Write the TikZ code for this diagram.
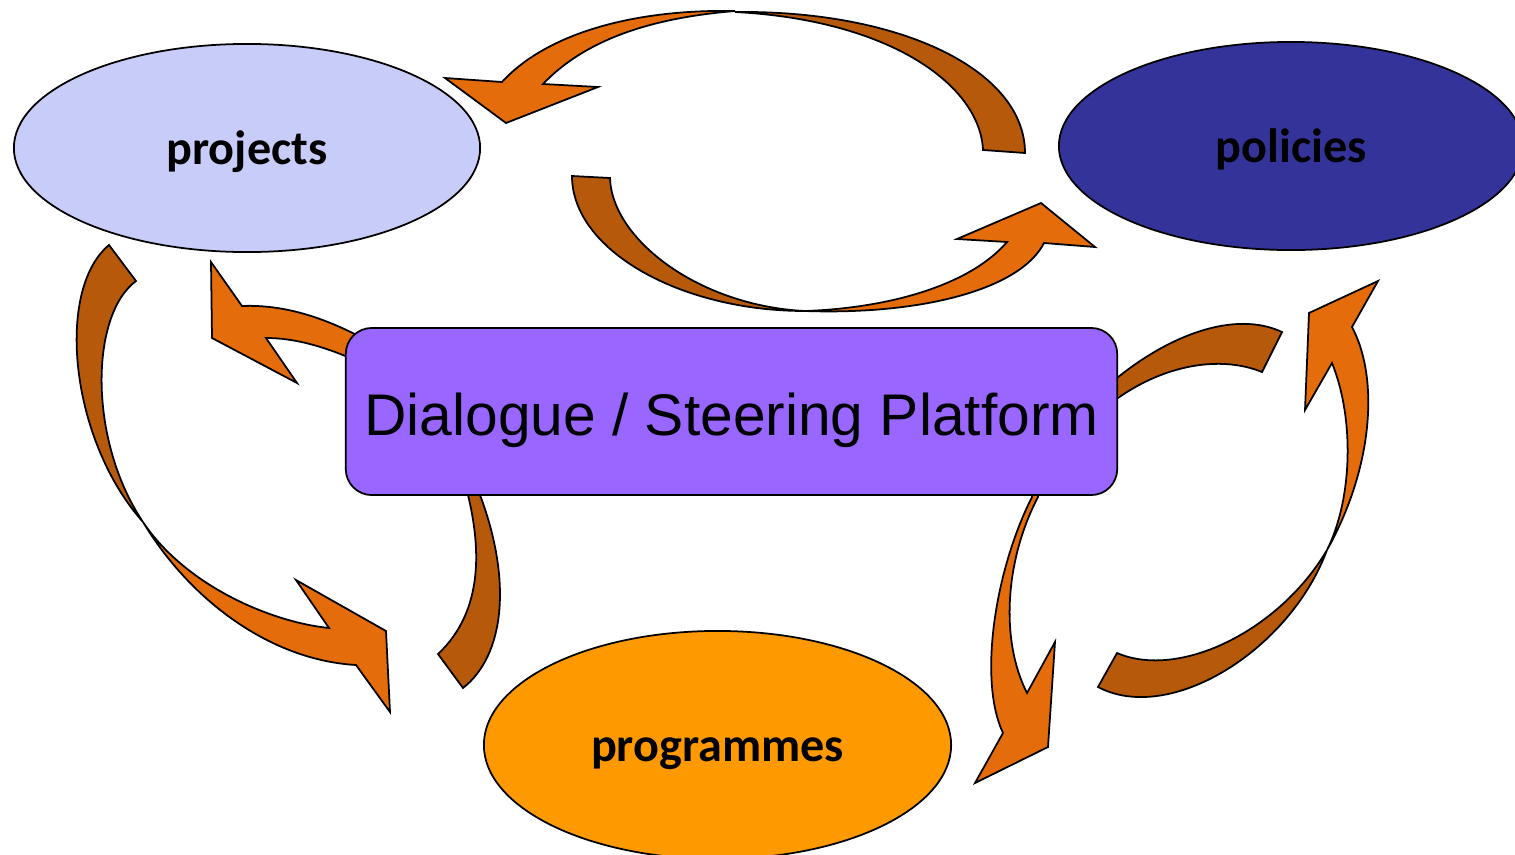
\documentclass[tikz,border=0pt]{standalone}
\usepackage{fontspec}
\setmainfont{Carlito}
\newfontfamily\arialfont{Liberation Sans}
\usetikzlibrary{shapes.geometric}
\definecolor{lightorange}{RGB}{228,108,10}
\definecolor{darkorange}{RGB}{183,89,10}
\definecolor{projfill}{RGB}{200,204,248}
\definecolor{polfill}{RGB}{51,51,153}
\definecolor{progfill}{RGB}{255,153,0}
\definecolor{boxfill}{RGB}{153,102,255}
\tikzset{
  lightband/.style={fill=lightorange, draw=black, line width=0.5pt},
  darkband/.style={fill=darkorange, draw=black, line width=0.5pt},
  bubble/.style={ellipse, draw=black, line width=0.5pt, inner sep=0pt,
    text height=11.8pt, text depth=2.6pt,
    font=\fontsize{13.7}{16}\selectfont\bfseries},
  platform/.style={rectangle, rounded corners=0.26cm, draw=black, line width=0.5pt,
    fill=boxfill, inner sep=0pt, minimum width=7.71cm, minimum height=1.67cm,
    text height=13.4pt, text depth=0pt,
    font=\arialfont\fontsize{16.7}{20}\selectfont}
}

\begin{document}
\begin{tikzpicture}[x=0.01cm, y=-0.01cm]
    \useasboundingbox (0,0) rectangle (1515,854);

    % top pair
    \draw[darkband] (983,150) .. controls (980,85) and (890,20) .. (735,12)
        .. controls (900,10) and (1025,70) .. (1025,153) -- cycle;
    \draw[lightband] (735,11) .. controls (630,9) and (545,35) .. (502,82)
        -- (445,78) -- (506,123) -- (598,87) -- (543,84)
        .. controls (585,40) and (650,18) .. (735,11) -- cycle;
    \draw[darkband] (572,176) .. controls (572,250) and (680,311) .. (805,311)
        .. controls (700,306) and (612,240) .. (610,178) -- cycle;
    \draw[lightband] (805,311) .. controls (920,315) and (1020,290) .. (1044,243)
        -- (1095,247) -- (1041,203) -- (957,239) -- (1007,242)
        .. controls (970,285) and (890,308) .. (805,311) -- cycle;

    % left pair
    \draw[darkband] (109,245) .. controls (55,290) and (70,440) .. (143,522)
        .. controls (88,440) and (90,315) .. (136,281) -- cycle;
    \draw[lightband] (143,522) .. controls (190,600) and (270,660) .. (356,665)
        -- (390,712) -- (386,631) -- (296,580) -- (329,628)
        .. controls (270,622) and (185,585) .. (143,522) -- cycle;
    \draw[lightband] (375,345) .. controls (335,322) and (290,304) .. (242,306)
        -- (211,262) -- (212,338) -- (297,383) -- (266,338)
        .. controls (300,338) and (335,350) .. (372,368) -- cycle;
    \draw[darkband] (466,485) -- (468,495) .. controls (480,545) and (485,610) .. (438,654)
        -- (463,688) .. controls (505,655) and (512,580) .. (480,495) -- (478,485) -- cycle;

    % right pair
    \draw[lightband] (1030,485) -- (1032,497) .. controls (995,570) and (978,680) .. (1003,733)
        -- (975,783) -- (1048,747) -- (1055,642) -- (1027,693)
        .. controls (1000,640) and (1005,560) .. (1038,497) -- (1040,485) -- cycle;
    \draw[darkband] (1105,385) -- (1117,378) .. controls (1170,335) and (1235,310) .. (1282,332)
        -- (1262,372) .. controls (1220,355) and (1165,365) .. (1118,398) -- (1105,400) -- cycle;
    \draw[darkband] (1117,653) .. controls (1180,680) and (1280,630) .. (1327,550)
        .. controls (1290,650) and (1170,725) .. (1098,687) -- cycle;
    \draw[lightband] (1327,550) .. controls (1372,470) and (1380,380) .. (1352,327)
        -- (1378,281) -- (1309,313) -- (1305,410) -- (1332,363)
        .. controls (1355,420) and (1352,500) .. (1327,550) -- cycle;

    \node[bubble, fill=projfill, minimum width=4.66cm, minimum height=2.08cm]
        (projects) at (247,148) {projects};
    \node[bubble, fill=polfill, minimum width=4.64cm, minimum height=2.08cm]
        (policies) at (1291,146) {policies};
    \node[bubble, fill=progfill, minimum width=4.67cm, minimum height=2.28cm]
        (programmes) at (717.5,745) {programmes};
    \node[platform] (dialogue) at (731.5,411.5) {Dialogue / Steering Platform};
\end{tikzpicture}
\end{document}
